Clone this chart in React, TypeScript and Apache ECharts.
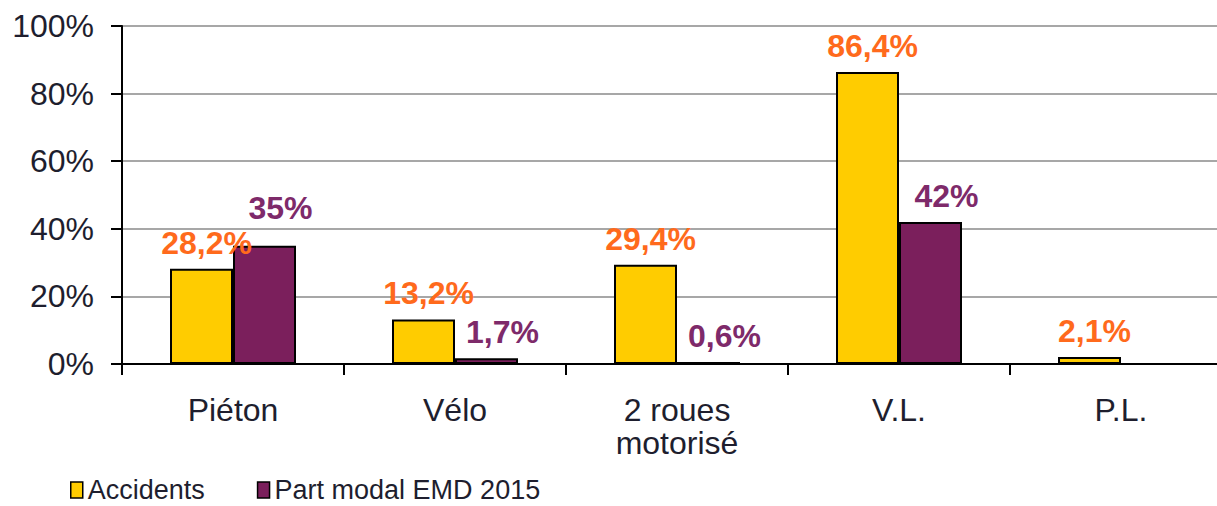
import React, { useEffect, useRef } from "react";
import * as echarts from "echarts";

const categories = ["Piéton", "Vélo", "2 roues\nmotorisé", "V.L.", "P.L."];
const accidents = [28.2, 13.2, 29.4, 86.4, 2.1];
const partModal: (number | null)[] = [35, 1.7, 0.6, 42, null];
const accidentLabels = ["28,2%", "13,2%", "29,4%", "86,4%", "2,1%"];
const partModalLabels = ["35%", "1,7%", "0,6%", "42%", ""];
const seriesNames = ["Accidents", "Part modal EMD 2015"];

export default function App() {
  const ref = useRef<HTMLDivElement>(null);
  useEffect(() => {
    if (!ref.current) return;
    const chart = echarts.init(ref.current, null, { renderer: "svg" });
    const font = "'Liberation Sans', Arial, sans-serif";
    chart.setOption({
      animation: false,
      textStyle: { fontFamily: font },
      grid: { left: 122, top: 26, width: 1110, height: 338 },
      legend: {
        left: 70,
        top: 475,
        padding: 0,
        itemWidth: 12,
        itemHeight: 16,
        itemGap: 52,
        textStyle: { fontSize: 27, lineHeight: 30, color: "#1e1e2e", fontFamily: font },
        data: seriesNames.map((n) => ({
          name: n,
          icon: "rect",
          itemStyle: { borderColor: "#000", borderWidth: 1.5 },
        })),
      },
      xAxis: {
        type: "category",
        data: categories,
        axisLine: { lineStyle: { color: "#000", width: 2 } },
        axisTick: { show: true, length: 11, lineStyle: { color: "#000", width: 2 } },
        axisLabel: {
          fontSize: 32,
          color: "#1e1e2e",
          margin: 29,
          lineHeight: 33,
          fontFamily: font,
        },
      },
      yAxis: {
        type: "value",
        min: 0,
        max: 100,
        interval: 20,
        axisLine: { show: true, lineStyle: { color: "#000", width: 2 } },
        axisTick: { show: true, length: 11, lineStyle: { color: "#000", width: 2 } },
        axisLabel: {
          fontSize: 32,
          color: "#1e1e2e",
          margin: 28,
          formatter: (v: number) => v + "%",
          fontFamily: font,
        },
        splitLine: { lineStyle: { color: "#8a8a8a", width: 1.5 } },
      },
      series: [
        {
          name: seriesNames[0],
          type: "bar",
          data: accidents,
          barWidth: 63,
          barGap: "0%",
          itemStyle: { color: "#FFCC00", borderColor: "#000", borderWidth: 2 },
          label: {
            show: true,
            position: "top",
            distance: 10,
            offset: [5, 0],
            fontSize: 32,
            fontWeight: "bold",
            color: "#FF6A1C",
            fontFamily: font,
            formatter: (p: any) => accidentLabels[p.dataIndex],
          },
        },
        {
          name: seriesNames[1],
          type: "bar",
          data: partModal.map((v, i) =>
            i === 0 ? { value: v, label: { distance: 22 } } : v
          ),
          barWidth: 63,
          barGap: "0%",
          itemStyle: { color: "#7B1F5C", borderColor: "#000", borderWidth: 2 },
          label: {
            show: true,
            position: "top",
            distance: 10,
            offset: [16, 0],
            fontSize: 32,
            fontWeight: "bold",
            color: "#7E2A6A",
            fontFamily: font,
            formatter: (p: any) => partModalLabels[p.dataIndex],
          },
        },
      ],
    });
    return () => chart.dispose();
  }, []);
  return (
    <div
      style={{
        position: "absolute",
        left: 0,
        top: 0,
        width: 1217,
        height: 506,
        overflow: "hidden",
        background: "#fff",
      }}
    >
      <div ref={ref} style={{ width: 1240, height: 506 }} />
    </div>
  );
}
